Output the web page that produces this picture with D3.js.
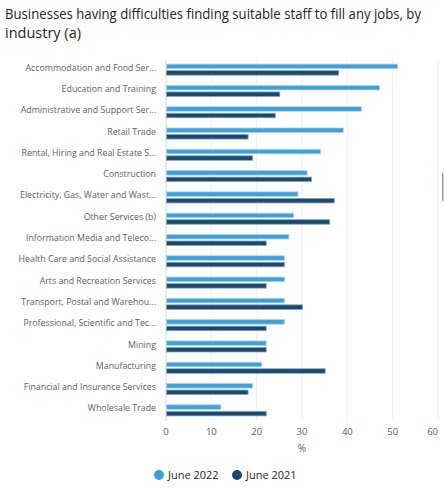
<!DOCTYPE html>
<html>
<head>
<meta charset="utf-8">
<script src="https://cdn.jsdelivr.net/npm/d3@7"></script>
<style>
  body { margin: 0; background: #fff; }
  text { font-family: "Open Sans", "Noto Sans", sans-serif; }
</style>
</head>
<body>
<div id="chart"></div>
<script>
// Daten
const categories = [
  "Accommodation and Food Ser...",
  "Education and Training",
  "Administrative and Support Ser...",
  "Retail Trade",
  "Rental, Hiring and Real Estate S...",
  "Construction",
  "Electricity, Gas, Water and Wast...",
  "Other Services (b)",
  "Information Media and Teleco...",
  "Health Care and Social Assistance",
  "Arts and Recreation Services",
  "Transport, Postal and Warehou...",
  "Professional, Scientific and Tec...",
  "Mining",
  "Manufacturing",
  "Financial and Insurance Services",
  "Wholesale Trade"
];
const june2022 = [51, 47, 43, 39, 34, 31, 29, 28, 27, 26, 26, 26, 26, 22, 21, 19, 12];
const june2021 = [38, 25, 24, 18, 19, 32, 37, 36, 22, 26, 22, 30, 22, 22, 35, 18, 22];
const seriesNames = ["June 2022", "June 2021"];
const xTicks = [0, 10, 20, 30, 40, 50, 60];
const titleLines = ["Businesses having difficulties finding suitable staff to fill any jobs, by", "industry (a)"];

const colors = ["#41a0d6", "#1a4a70"];
const width = 444;
const height = 490;
const margin = {top: 59, right: 6, bottom: 70, left: 166};

const svg = d3.select("#chart")
  .append("svg")
  .attr("width", width)
  .attr("height", height);

// Titel
svg.append("text")
  .attr("x", 5)
  .attr("y", 19)
  .attr("fill", "#252423")
  .style("font-size", "13.6px")
  .selectAll("tspan")
  .data(titleLines)
  .enter()
  .append("tspan")
  .attr("x", 5)
  .attr("dy", (d, i) => i === 0 ? 0 : 19)
  .attr("textLength", (d, i) => i === 0 ? 416 : null)
  .attr("lengthAdjust", "spacingAndGlyphs")
  .style("font-size", (d, i) => i === 0 ? null : "14.5px")
  .text(d => d);

const x = d3.scaleLinear()
  .domain([0, 60])
  .range([margin.left, width - margin.right]);

const y = d3.scaleBand()
  .domain(categories)
  .range([margin.top, height - margin.bottom + 1])
  .paddingInner(0.48)
  .paddingOuter(0.24);

const ySub = d3.scaleBand()
  .domain(seriesNames)
  .range([0, y.bandwidth()])
  .paddingInner(0.3);

// Gitterlinien
svg.append("g")
  .selectAll("line")
  .data(xTicks)
  .enter()
  .append("line")
  .attr("x1", d => x(d))
  .attr("x2", d => x(d))
  .attr("y1", margin.top)
  .attr("y2", height - margin.bottom + 1)
  .attr("stroke", d => d === 0 ? "#e3e6ea" : "#eef0f2")
  .attr("stroke-width", d => d === 0 ? 1.5 : 1);

// Achsenbeschriftung x
svg.append("g")
  .selectAll("text")
  .data(xTicks)
  .enter()
  .append("text")
  .attr("x", d => x(d))
  .attr("y", 435)
  .attr("text-anchor", d => d === 60 ? "end" : "middle")
  .attr("fill", "#605e5c")
  .style("font-size", "9.5px")
  .text(d => d);

svg.append("text")
  .attr("x", x(30))
  .attr("y", 452)
  .attr("text-anchor", "middle")
  .attr("fill", "#605e5c")
  .style("font-size", "10px")
  .text("%");

// Kategorien
svg.append("g")
  .selectAll("text")
  .data(categories)
  .enter()
  .append("text")
  .attr("x", margin.left - 10)
  .attr("y", d => y(d) + y.bandwidth() / 2 - 2)
  .attr("dy", "0.35em")
  .attr("text-anchor", "end")
  .attr("fill", "#605e5c")
  .style("font-size", "8.8px")
  .text(d => d);

// Balken
const series = [june2022, june2021];
series.forEach((values, s) => {
  svg.append("g")
    .selectAll("rect")
    .data(values)
    .enter()
    .append("rect")
    .attr("x", x(0) + 0.5)
    .attr("y", (d, i) => y(categories[i]) + ySub(seriesNames[s]))
    .attr("width", d => x(d) - x(0))
    .attr("height", ySub.bandwidth())
    .attr("fill", colors[s])
    .attr("stroke", s === 0 ? "#a9d3ee" : "#8aa4bb")
    .attr("stroke-width", 0.8);
});

// Legende
const legend = svg.append("g")
  .selectAll("g")
  .data(seriesNames)
  .enter()
  .append("g")
  .attr("transform", (d, i) => `translate(${i === 0 ? 159 : 237}, 475)`);

legend.append("circle")
  .attr("r", 5)
  .attr("fill", (d, i) => colors[i]);

legend.append("text")
  .attr("x", 9)
  .attr("dy", "0.35em")
  .attr("fill", "#252423")
  .style("font-size", "11px")
  .text(d => d);

// Scrollbalken rechts
svg.append("rect")
  .attr("x", 442)
  .attr("y", 173)
  .attr("width", 1.5)
  .attr("height", 28)
  .attr("fill", "#7aa898");
</script>
</body>
</html>
